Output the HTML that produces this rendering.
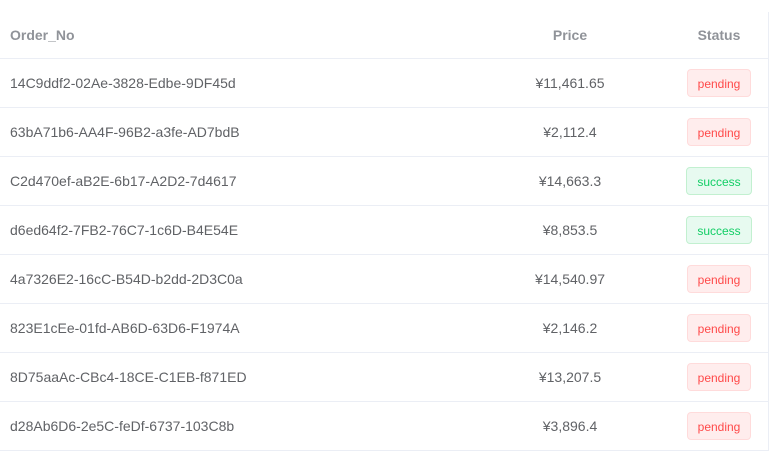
<!DOCTYPE html>
<html><head><meta charset="utf-8"><style>
body{margin:0;width:769px;height:452px;background:#fff;font-family:"Liberation Sans","Noto Sans CJK SC",sans-serif;overflow:hidden}
.wrap{position:absolute;left:0;top:12px;width:768px;border-right:1px solid #ebeef5}
table{border-collapse:collapse;width:768px;table-layout:fixed}
th{height:46px;color:#909399;font-weight:bold;font-size:14px;border-bottom:1px solid #ebeef5;padding:0}
td{height:48px;color:#606266;font-size:14px;border-bottom:1px solid #ebeef5;padding:0}
.c1{text-align:left;padding-left:10px}
.c2,.c3{text-align:center}
.tag{display:inline-block;height:28px;line-height:28px;padding:0 10px;font-size:12px;border-radius:4px;border:1px solid;box-sizing:border-box}
.pending{background:#ffeded;border-color:#ffdbdb;color:#ff4949}
.success{background:#e7faf0;border-color:#c2f0d0;color:#13ce66}
</style></head><body>
<div class="wrap">
<table>
<colgroup><col style="width:470px"><col style="width:200px"><col style="width:98px"></colgroup>
<thead><tr>
<th class="c1">Order_No</th>
<th class="c2">Price</th>
<th class="c3">Status</th></tr></thead>
<tbody id="tb"></tbody></table></div>
<script>
const orders=["14C9ddf2-02Ae-3828-Edbe-9DF45d","63bA71b6-AA4F-96B2-a3fe-AD7bdB","C2d470ef-aB2E-6b17-A2D2-7d4617","d6ed64f2-7FB2-76C7-1c6D-B4E54E","4a7326E2-16cC-B54D-b2dd-2D3C0a","823E1cEe-01fd-AB6D-63D6-F1974A","8D75aaAc-CBc4-18CE-C1EB-f871ED","d28Ab6D6-2e5C-feDf-6737-103C8b"];
const prices=["¥11,461.65","¥2,112.4","¥14,663.3","¥8,853.5","¥14,540.97","¥2,146.2","¥13,207.5","¥3,896.4"];
const statuses=["pending","pending","success","success","pending","pending","pending","pending"];
const tb=document.getElementById('tb');
orders.forEach((o,i)=>{
const tr=document.createElement('tr');


const a=document.createElement('td');a.className='c1';a.textContent=o;


const b=document.createElement('td');b.className='c2';b.textContent=prices[i];


const c=document.createElement('td');c.className='c3';


const s=document.createElement('span');s.className='tag '+statuses[i];s.textContent=statuses[i];


c.appendChild(s);tr.append(a,b,c);tb.appendChild(tr);
});
</script>
</body></html>
